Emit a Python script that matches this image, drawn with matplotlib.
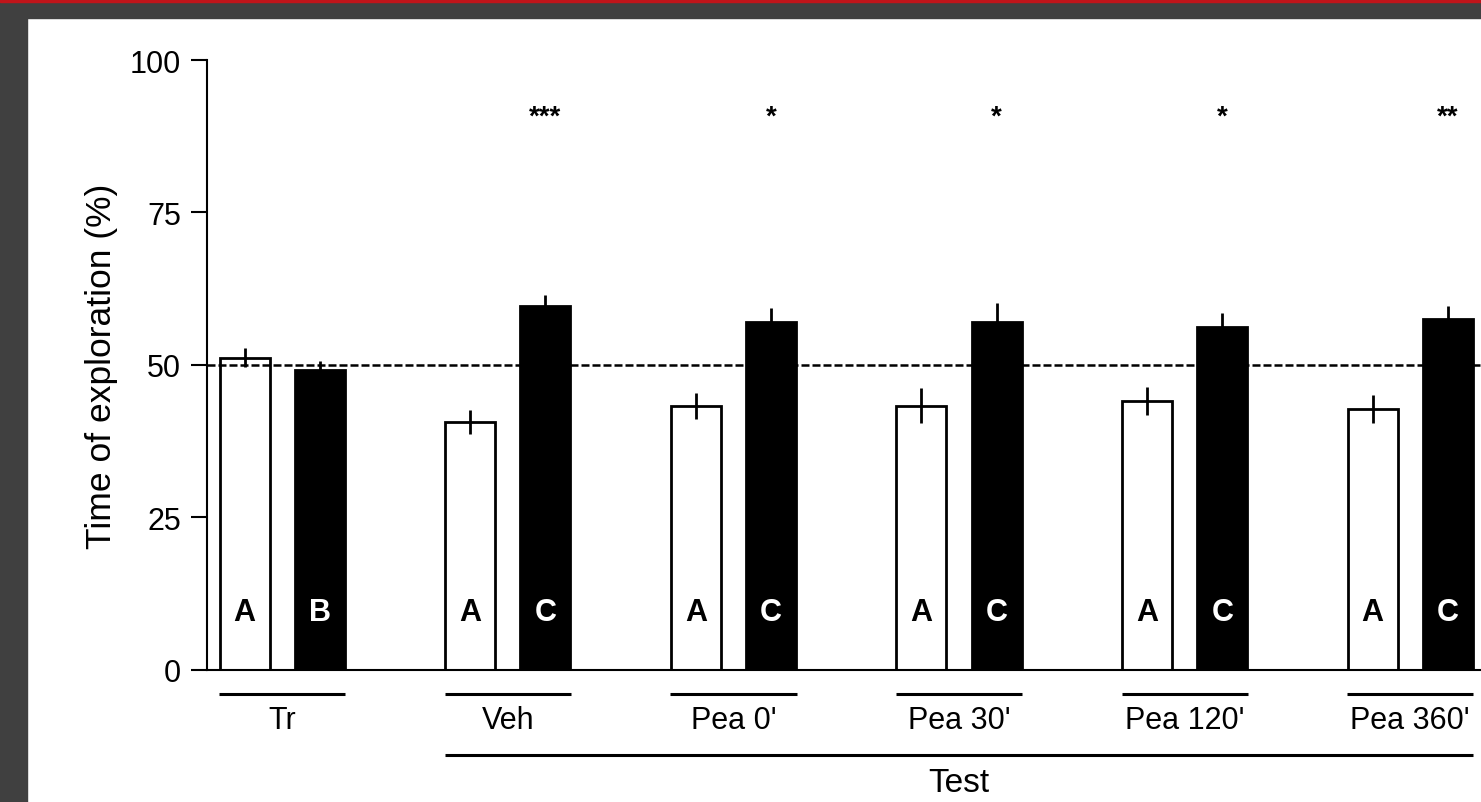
import matplotlib
matplotlib.use("Agg")
import matplotlib.pyplot as plt
import matplotlib.transforms as mtransforms
from matplotlib.patches import Rectangle

plt.rcParams['font.family'] = ['Liberation Sans', 'DejaVu Sans']

# ---- data ----
groups = ["Tr", "Veh", "Pea 0'", "Pea 30'", "Pea 120'", "Pea 360'"]
familiar_vals = [51.2, 40.6, 43.3, 43.3, 44.0, 42.7]
familiar_err = [1.6, 2.0, 2.1, 2.9, 2.3, 2.3]
novel_vals = [49.1, 59.6, 57.1, 57.1, 56.2, 57.6]
novel_err = [1.6, 1.9, 2.2, 3.0, 2.3, 2.0]
familiar_letters = ["A", "A", "A", "A", "A", "A"]
novel_letters = ["B", "C", "C", "C", "C", "C"]
stars = ["", "***", "*", "*", "*", "**"]
yticks = [0, 25, 50, 75, 100]
chance = 50
ylabel = "Time of exploration (%)"
test_label = "Test"

W, H = 1481, 803
fig = plt.figure(figsize=(W / 100, H / 100), dpi=100)
fig.patch.set_facecolor("white")
# frame of the screenshot
fig.add_artist(Rectangle((0, 0), 27 / W, 1, transform=fig.transFigure, color="#404040", zorder=0))
fig.add_artist(Rectangle((0, 1 - 19 / H), 1, 19 / H, transform=fig.transFigure, color="#404040", zorder=0))
fig.add_artist(Rectangle((0, 1 - 3 / H), 1, 3 / H, transform=fig.transFigure, color="#c0141a", zorder=0))

left_px, bottom_px, top_px = 207, 670.7, 61
ax = fig.add_axes([left_px / W, (H - bottom_px) / H, (W - left_px) / W, (bottom_px - top_px) / H])
ax.set_facecolor("none")

n = len(groups)
xf = [3 * i for i in range(n)]
xn = [3 * i + 1 for i in range(n)]
bw = 0.665
lw = 2.0

ax.bar(xf, familiar_vals, width=bw, color="white", edgecolor="black", linewidth=lw, zorder=2)
ax.bar(xn, novel_vals, width=bw, color="black", edgecolor="black", linewidth=lw, zorder=2)
ax.errorbar(xf, familiar_vals, yerr=familiar_err, fmt="none", ecolor="black", elinewidth=lw, capsize=0, zorder=3)
ax.errorbar(xn, novel_vals, yerr=novel_err, fmt="none", ecolor="black", elinewidth=lw, capsize=0, zorder=3)

ax.axhline(chance, color="black", linestyle=(0, (3.2, 1.2)), linewidth=1.8, zorder=4)

for i in range(n):
    ax.text(xf[i], 9.4, familiar_letters[i], ha="center", va="center", fontsize=22,
            fontweight="bold", color="black", zorder=5)
    ax.text(xn[i], 9.4, novel_letters[i], ha="center", va="center", fontsize=22,
            fontweight="bold", color="white", zorder=5)
    if stars[i]:
        ax.text(xn[i], 89.6, stars[i], ha="center", va="baseline", fontsize=20,
                fontweight="bold", color="black")

ax.set_xlim(-0.5, 16.44)
ax.set_ylim(0, 100)
ax.set_yticks(yticks)
ax.set_xticks([])
ax.tick_params(axis="y", length=11.5, width=1.5, labelsize=22, pad=7, direction="out")
for s in ["top", "right"]:
    ax.spines[s].set_visible(False)
ax.spines["left"].set_linewidth(1.5)
ax.spines["bottom"].set_linewidth(1.5)
fig.text(101.7 / W, (H - 366) / H, ylabel, rotation=90, ha="center", va="center", fontsize=25.5)

trans = mtransforms.blended_transform_factory(ax.transData, ax.transAxes)
axh = bottom_px - top_px
def yax(px):
    return (bottom_px - px) / axh

for i in range(n):
    ax.plot([xf[i] - 0.34, xn[i] + 0.34], [yax(695), yax(695)], transform=trans,
            color="black", linewidth=2.2, clip_on=False, solid_capstyle="butt")
    ax.text((xf[i] + xn[i]) / 2, yax(721), groups[i], transform=trans, ha="center", va="center",
            fontsize=22)

ax.plot([xf[1] - 0.335, xn[-1] + 0.333], [yax(756), yax(756)], transform=trans,
        color="black", linewidth=2.2, clip_on=False, solid_capstyle="butt")
ax.text((xf[1] + xn[-1]) / 2, yax(784), test_label, transform=trans, ha="center", va="center",
        fontsize=24)

fig.savefig("out.png", dpi=100)
